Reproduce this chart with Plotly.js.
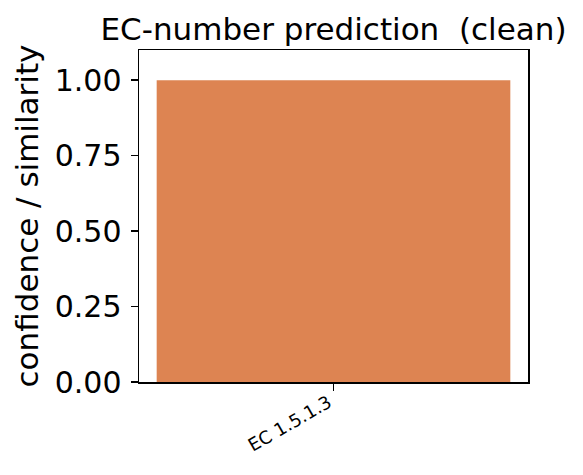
<!DOCTYPE html>
<html>
<head>
<meta charset="utf-8">
<script src="https://cdn.plot.ly/plotly-3.0.1.min.js"></script>
<style>html,body{margin:0;padding:0;background:#fff;}#chart{width:583px;height:475px;}</style>
</head>
<body>
<div id="chart"></div>
<script>
const categories = ['EC 1.5.1.3'];
const values = [1.0];
const yTicks = [0, 0.25, 0.5, 0.75, 1.0];
const yTickLabels = ['0.00', '0.25', '0.50', '0.75', '1.00'];
const barColor = '#DD8452';

const font = 'DejaVu Sans, sans-serif';

Plotly.newPlot('chart', [{
  type: 'bar',
  x: categories,
  y: values,
  marker: {color: barColor, line: {width: 0}},
  hoverinfo: 'none'
}], {
  width: 583,
  height: 475,
  margin: {l: 139, r: 55, t: 50, b: 93, pad: 0},
  paper_bgcolor: '#fff',
  plot_bgcolor: '#fff',
  bargap: 0.2,
  showlegend: false,
  title: {
    text: 'EC-number prediction  (clean)',
    font: {family: font, size: 31, color: '#000'},
    xref: 'paper', x: 0.5, xanchor: 'center',
    yref: 'paper', y: 1, yanchor: 'bottom',
    pad: {b: 10}
  },
  xaxis: {
    type: 'category',
    range: [-0.44, 0.44],
    tickvals: categories,
    ticktext: categories.map(c => c + '\u00a0'),
    showline: true, mirror: true, linecolor: '#000', linewidth: 1.5,
    showgrid: false, zeroline: false,
    ticks: 'outside', ticklen: 7, tickwidth: 1.5, tickcolor: '#000',
    tickangle: -30,
    ticklabelstandoff: -8,
    tickfont: {family: font, size: 18, color: '#000'}
  },
  yaxis: {
    range: [0, 1.1],
    tickvals: yTicks, ticktext: yTickLabels,
    showline: true, mirror: true, linecolor: '#000', linewidth: 1.5,
    showgrid: false, zeroline: false,
    ticks: 'outside', ticklen: 7, tickwidth: 1.5, tickcolor: '#000',
    ticklabelstandoff: 3,
    tickfont: {family: font, size: 30, color: '#000'},
    title: {text: 'confidence / similarity', font: {family: font, size: 31, color: '#000'}, standoff: 7}
  }
}, {staticPlot: true});
</script>
</body>
</html>
